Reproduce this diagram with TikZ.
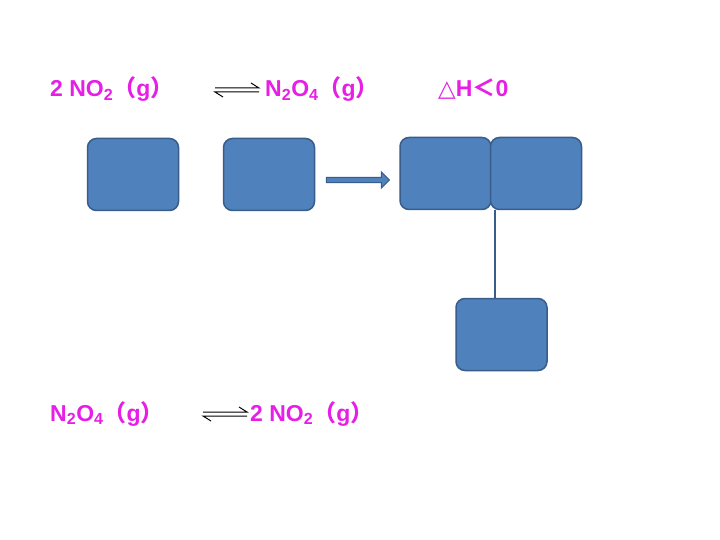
\documentclass[tikz,border=0pt]{standalone}
\usepackage{fontspec}
\setmainfont{Liberation Sans}
\newfontfamily\cjk{Noto Sans CJK SC}
\newfontfamily\djv{DejaVu Sans}
\usetikzlibrary{shapes.arrows}
\definecolor{mag}{RGB}{230,30,230}
\definecolor{bfill}{RGB}{79,129,189}
\definecolor{bline}{RGB}{56,93,138}
\tikzset{box/.style={draw=bline,fill=bfill,line width=1.5pt,rounded corners=9pt,minimum width=91pt,minimum height=72pt,inner sep=0},
 eq/.style={text=mag,font=\fontsize{23}{26}\selectfont\bfseries,anchor=base west,inner sep=0},
 eqarr/.style={line width=1pt}}
\newcommand{\eqarrow}[2]{%
 \draw[eqarr] (#1,#2-4) -- (#1+44,#2-4) -- (#1+36,#2-9);
 \draw[eqarr] (#1+44,#2) -- (#1,#2) -- (#1+8,#2+5);}
\begin{document}
\begin{tikzpicture}[x=1pt,y=-1pt]
\useasboundingbox (0,0) rectangle (720,540);
\fill[white] (0,0) rectangle (720,540);
\node[eq] (t1) at (50,97) {2 NO\textsubscript{2}{\cjk （}g{\cjk ）}};
\eqarrow{215}{92}
\node[eq] (t2) at (265,97) {N\textsubscript{2}O\textsubscript{4}{\cjk （}g{\cjk ）}};
\node[eq] (t3) at (438,97) {{\djv\char"25B3}H{\cjk ＜}0};
\node[eq] (b1) at (50,421) {N\textsubscript{2}O\textsubscript{4}{\cjk （}g{\cjk ）}};
\eqarrow{203}{416}
\node[eq] (b2) at (250,421) {2 NO\textsubscript{2}{\cjk （}g{\cjk ）}};
\node[box] (k1) at (133,174.5) {};
\node[box] (k2) at (269,174.5) {};
\node[box] (k3) at (445.5,173.5) {};
\node[box] (k4) at (536,173.5) {};
\node[box] (k5) at (501.5,334.5) {};
\node[single arrow,draw=bline,fill=bfill,line width=1pt,minimum height=63pt,minimum width=16pt,single arrow head extend=3pt,inner sep=1pt] (ar) at (356.5,180) {};
\coordinate (la) at (495,210);
\coordinate (lb) at (495,298);
\draw[bline,line width=2pt] (la) -- (lb);
\end{tikzpicture}
\end{document}
